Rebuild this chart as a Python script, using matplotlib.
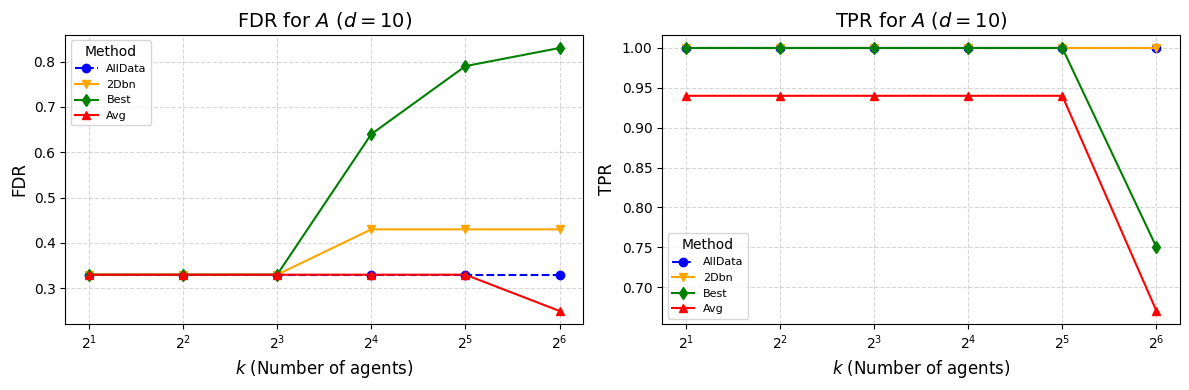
import numpy as np
import matplotlib.pyplot as plt

k = np.array([2, 4, 8, 16, 32, 64])

fdr_alldata = [0.33, 0.33, 0.33, 0.33, 0.33, 0.33]
fdr_2dbn = [0.33, 0.33, 0.33, 0.43, 0.43, 0.43]
fdr_best = [0.33, 0.33, 0.33, 0.64, 0.79, 0.83]
fdr_avg = [0.33, 0.33, 0.33, 0.33, 0.33, 0.25]

tpr_alldata = [1.0, 1.0, 1.0, 1.0, 1.0, 1.0]
tpr_2dbn = [1.0, 1.0, 1.0, 1.0, 1.0, 1.0]
tpr_best = [1.0, 1.0, 1.0, 1.0, 1.0, 0.75]
tpr_avg = [0.94, 0.94, 0.94, 0.94, 0.94, 0.67]

fig, axes = plt.subplots(1, 2, figsize=(12, 4), dpi=100)

panels = [
    (axes[0], 'FDR', [fdr_alldata, fdr_2dbn, fdr_best, fdr_avg], 'upper left'),
    (axes[1], 'TPR', [tpr_alldata, tpr_2dbn, tpr_best, tpr_avg], 'lower left'),
]

for ax, name, series, loc in panels:
    ax.plot(k, series[0], 'o--', color='blue', label='AllData')
    ax.plot(k, series[1], 'v-', color='orange', label='2Dbn')
    ax.plot(k, series[2], 'd-', color='green', label='Best')
    ax.plot(k, series[3], '^-', color='red', label='Avg')
    ax.set_xscale('log', base=2)
    ax.set_xticks(k)
    ax.set_title(name + r' for $A$ ($d=10$)', fontsize=14)
    ax.set_xlabel(r'$k$ (Number of agents)', fontsize=12)
    ax.set_ylabel(name, fontsize=12)
    ax.grid(True, linestyle='--', alpha=0.5)
    ax.legend(title='Method', fontsize=8, title_fontsize=10, loc=loc)

plt.tight_layout()
plt.savefig('out.png', bbox_inches='tight')
